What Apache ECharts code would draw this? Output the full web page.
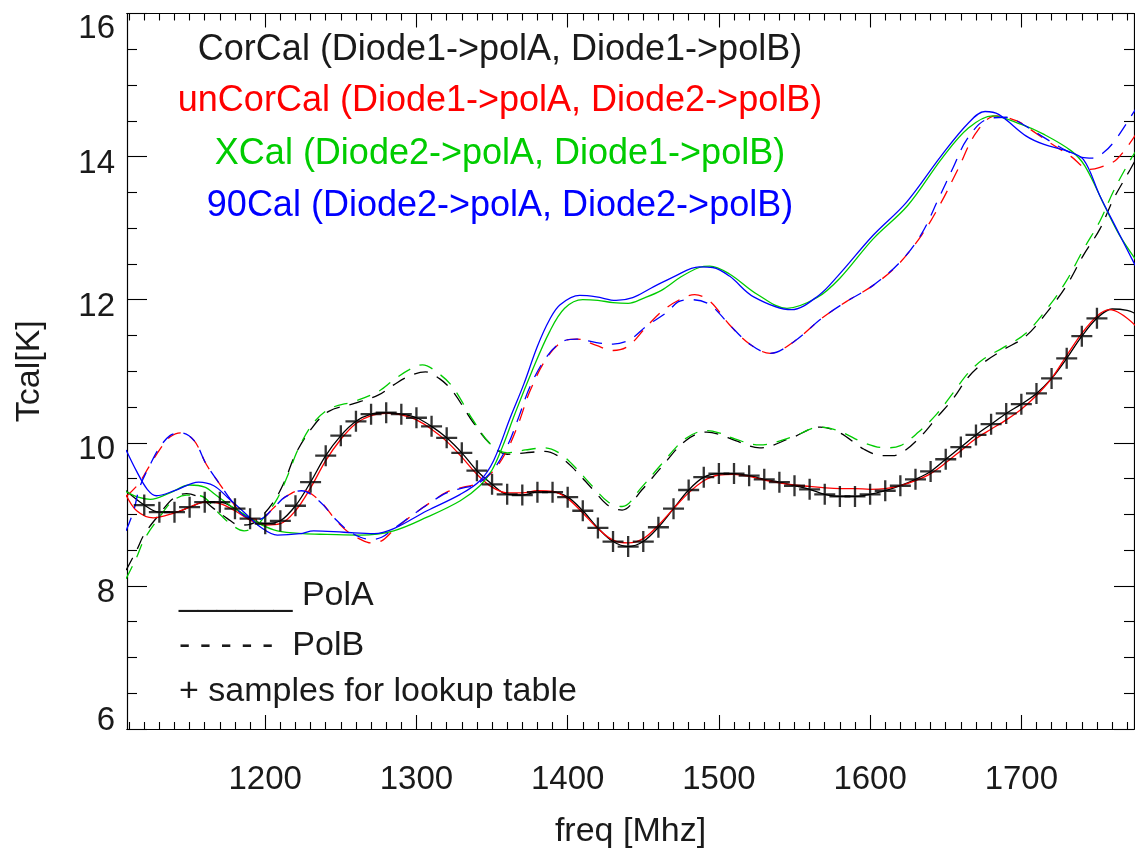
<!DOCTYPE html>
<html><head><meta charset="utf-8">
<script src="https://cdn.jsdelivr.net/npm/echarts@6/dist/echarts.min.js"></script>
<style>html,body{margin:0;padding:0;background:#fff}#c{width:1135px;height:854px}</style>
</head><body><div id="c"></div>
<script>
// ---------- data (freq MHz, Tcal K) ----------
const corCalPolA = [[1108,9.33],[1120,9.13],[1130,9.03],[1140,9.03],[1150,9.10],[1160,9.17],[1170,9.17],[1180,9.08],[1190,8.94],[1200,8.87],[1210,8.91],[1220,9.12],[1230,9.45],[1240,9.82],[1250,10.10],[1260,10.30],[1270,10.40],[1280,10.42],[1290,10.40],[1300,10.35],[1310,10.23],[1320,10.07],[1330,9.86],[1340,9.61],[1350,9.42],[1360,9.28],[1370,9.27],[1380,9.31],[1390,9.31],[1400,9.24],[1410,9.05],[1420,8.81],[1430,8.62],[1440,8.55],[1450,8.62],[1460,8.82],[1470,9.08],[1480,9.34],[1490,9.52],[1500,9.57],[1510,9.57],[1520,9.54],[1530,9.49],[1540,9.45],[1550,9.40],[1560,9.35],[1570,9.28],[1580,9.25],[1590,9.25],[1600,9.28],[1610,9.33],[1620,9.40],[1630,9.49],[1640,9.60],[1650,9.77],[1660,9.94],[1670,10.11],[1680,10.26],[1690,10.41],[1700,10.54],[1710,10.69],[1720,10.90],[1730,11.18],[1740,11.49],[1750,11.74],[1760,11.87],[1770,11.85],[1776,11.80]];
const corCalPolB = [[1108,8.22],[1115,8.50],[1120,8.72],[1130,9.00],[1139,9.22],[1148,9.29],[1157,9.23],[1166,9.08],[1175,8.94],[1183,8.85],[1190,8.86],[1197,8.96],[1206,9.19],[1213,9.47],[1220,9.84],[1231,10.21],[1242,10.44],[1259,10.55],[1275,10.67],[1285,10.81],[1295,10.93],[1306,10.99],[1315,10.90],[1324,10.72],[1337,10.30],[1349,9.98],[1360,9.84],[1372,9.86],[1385,9.88],[1395,9.80],[1403,9.66],[1417,9.34],[1427,9.12],[1436,9.06],[1449,9.34],[1462,9.66],[1478,10.03],[1492,10.15],[1500,10.12],[1511,10.03],[1527,9.93],[1548,10.07],[1567,10.22],[1580,10.14],[1596,9.91],[1608,9.82],[1615,9.82],[1623,9.89],[1634,10.10],[1644,10.35],[1655,10.62],[1665,10.92],[1675,11.12],[1688,11.30],[1703,11.49],[1719,11.88],[1730,12.20],[1741,12.62],[1752,12.99],[1761,13.41],[1772,13.82],[1778,14.05]];
const unCorCalPolA = [[1108,9.27],[1115,9.05],[1126,8.95],[1140,9.02],[1150,9.10],[1160,9.17],[1170,9.15],[1180,9.05],[1190,8.92],[1200,8.85],[1210,8.87],[1220,9.05],[1230,9.37],[1240,9.75],[1250,10.05],[1260,10.27],[1270,10.38],[1280,10.41],[1290,10.39],[1300,10.32],[1310,10.19],[1320,10.02],[1330,9.80],[1340,9.56],[1350,9.38],[1360,9.30],[1370,9.30],[1380,9.33],[1390,9.32],[1400,9.22],[1410,9.02],[1420,8.80],[1430,8.64],[1440,8.60],[1450,8.66],[1460,8.85],[1470,9.08],[1480,9.30],[1490,9.47],[1500,9.55],[1510,9.56],[1520,9.53],[1530,9.48],[1540,9.44],[1550,9.41],[1560,9.39],[1570,9.37],[1580,9.36],[1590,9.36],[1600,9.35],[1610,9.36],[1620,9.40],[1630,9.47],[1640,9.57],[1650,9.72],[1660,9.89],[1670,10.06],[1680,10.19],[1690,10.32],[1700,10.47],[1710,10.66],[1720,10.90],[1730,11.22],[1740,11.53],[1750,11.77],[1758,11.86],[1766,11.80],[1776,11.63]];
const unCorCalPolB = [[1108,9.25],[1116,9.42],[1123,9.66],[1131,9.93],[1137,10.08],[1144,10.14],[1153,10.03],[1161,9.70],[1170,9.42],[1179,9.15],[1186,8.98],[1196,8.93],[1206,9.10],[1213,9.24],[1224,9.34],[1236,9.19],[1247,8.91],[1255,8.75],[1263,8.65],[1270,8.60],[1277,8.63],[1285,8.78],[1298,9.00],[1311,9.19],[1320,9.31],[1331,9.38],[1340,9.43],[1351,9.61],[1360,9.90],[1368,10.30],[1375,10.72],[1386,11.18],[1397,11.42],[1406,11.45],[1419,11.36],[1430,11.29],[1440,11.35],[1452,11.62],[1463,11.85],[1475,12.01],[1484,12.07],[1494,11.98],[1507,11.65],[1521,11.37],[1534,11.25],[1550,11.42],[1568,11.74],[1584,11.97],[1602,12.20],[1618,12.48],[1634,12.90],[1647,13.36],[1658,13.82],[1670,14.33],[1683,14.57],[1697,14.50],[1706,14.38],[1717,14.22],[1733,14.00],[1745,13.82],[1752,13.85],[1763,13.96],[1776,14.32]];
const xCalPolA = [[1108,9.32],[1116,9.24],[1124,9.21],[1137,9.30],[1150,9.41],[1160,9.38],[1168,9.26],[1177,9.12],[1186,9.00],[1197,8.86],[1208,8.77],[1225,8.73],[1241,8.72],[1263,8.71],[1285,8.77],[1307,8.96],[1329,9.19],[1342,9.40],[1350,9.62],[1357,9.95],[1365,10.40],[1376,10.98],[1388,11.55],[1398,11.88],[1410,12.00],[1420,11.99],[1430,11.96],[1440,11.95],[1450,12.02],[1462,12.13],[1475,12.32],[1487,12.45],[1494,12.47],[1507,12.36],[1525,12.08],[1545,11.88],[1565,12.03],[1580,12.30],[1602,12.85],[1625,13.32],[1648,13.99],[1665,14.40],[1681,14.57],[1700,14.45],[1715,14.31],[1733,14.08],[1742,13.87],[1756,13.27],[1765,12.90],[1776,12.55]];
const xCalPolB = [[1108,8.10],[1115,8.40],[1120,8.65],[1130,8.96],[1139,9.19],[1148,9.27],[1157,9.26],[1170,9.00],[1178,8.85],[1186,8.77],[1193,8.82],[1200,8.98],[1208,9.22],[1215,9.55],[1222,9.92],[1232,10.28],[1243,10.48],[1259,10.58],[1275,10.72],[1285,10.88],[1295,11.02],[1304,11.09],[1314,10.98],[1324,10.78],[1337,10.33],[1349,9.98],[1360,9.86],[1372,9.90],[1385,9.93],[1395,9.85],[1403,9.70],[1417,9.38],[1427,9.17],[1436,9.11],[1449,9.38],[1462,9.70],[1478,10.06],[1492,10.17],[1500,10.14],[1511,10.05],[1527,9.97],[1548,10.08],[1567,10.22],[1580,10.16],[1596,10.00],[1610,9.93],[1620,9.96],[1632,10.15],[1644,10.40],[1655,10.70],[1665,10.98],[1675,11.17],[1688,11.33],[1703,11.53],[1719,11.93],[1730,12.27],[1741,12.70],[1752,13.10],[1761,13.52],[1772,13.95],[1778,14.15]];
const cal90PolA = [[1108,9.90],[1115,9.60],[1122,9.35],[1128,9.26],[1140,9.33],[1156,9.45],[1166,9.40],[1175,9.24],[1186,9.03],[1197,8.82],[1208,8.71],[1223,8.73],[1232,8.77],[1252,8.75],[1272,8.73],[1285,8.80],[1307,9.05],[1329,9.28],[1342,9.47],[1351,9.75],[1362,10.35],[1371,10.82],[1380,11.35],[1388,11.72],[1395,11.93],[1408,12.06],[1419,12.04],[1432,11.99],[1443,12.03],[1455,12.16],[1470,12.32],[1487,12.46],[1496,12.45],[1507,12.33],[1523,12.04],[1548,11.86],[1566,12.06],[1579,12.34],[1602,12.90],[1624,13.36],[1647,14.01],[1665,14.47],[1676,14.63],[1685,14.59],[1703,14.29],[1715,14.17],[1730,14.08],[1741,13.96],[1752,13.45],[1763,12.99],[1776,12.45]];
const cal90PolB = [[1108,8.77],[1113,9.05],[1117,9.38],[1124,9.70],[1130,9.93],[1137,10.10],[1144,10.14],[1153,10.03],[1161,9.70],[1170,9.42],[1179,9.15],[1186,8.98],[1196,8.93],[1206,9.10],[1213,9.24],[1224,9.33],[1236,9.18],[1247,8.92],[1255,8.77],[1263,8.68],[1270,8.65],[1277,8.68],[1285,8.80],[1298,9.00],[1311,9.19],[1320,9.30],[1331,9.37],[1340,9.42],[1351,9.63],[1360,9.95],[1368,10.38],[1375,10.78],[1386,11.20],[1397,11.42],[1406,11.45],[1419,11.40],[1430,11.38],[1441,11.44],[1452,11.63],[1466,11.83],[1473,11.97],[1482,12.00],[1494,11.93],[1507,11.65],[1521,11.37],[1534,11.25],[1550,11.42],[1568,11.74],[1584,11.97],[1602,12.20],[1620,12.53],[1634,12.92],[1645,13.40],[1655,13.85],[1664,14.24],[1677,14.52],[1690,14.55],[1697,14.50],[1717,14.24],[1730,14.08],[1740,13.99],[1747,13.98],[1754,14.05],[1761,14.20],[1774,14.61],[1778,14.75]];
// lookup-table samples (every 10 MHz, on the CorCal polA curve)
const sampleFreqs = [1120,1130,1140,1150,1160,1170,1180,1190,1200,1210,1220,1230,1240,1250,1260,1270,1280,1290,1300,1310,1320,1330,1340,1350,1360,1370,1380,1390,1400,1410,1420,1430,1440,1450,1460,1470,1480,1490,1500,1510,1520,1530,1540,1550,1560,1570,1580,1590,1600,1610,1620,1630,1640,1650,1660,1670,1680,1690,1700,1710,1720,1730,1740,1750];

const xMajorTicks = [1200,1300,1400,1500,1600,1700];
const xMinorTicks = [1110,1120,1130,1140,1150,1160,1170,1180,1190,1210,1220,1230,1240,1250,1260,1270,1280,1290,1310,1320,1330,1340,1350,1360,1370,1380,1390,1410,1420,1430,1440,1450,1460,1470,1480,1490,1510,1520,1530,1540,1550,1560,1570,1580,1590,1610,1620,1630,1640,1650,1660,1670,1680,1690,1710,1720,1730,1740,1750,1760,1770];
const legendLines = [
  {text:'CorCal (Diode1->polA, Diode1->polB)', color:'#1a1a1a'},
  {text:'unCorCal (Diode1->polA, Diode2->polB)', color:'#ff0000'},
  {text:'XCal (Diode2->polA, Diode1->polB)', color:'#00cc00'},
  {text:'90Cal (Diode2->polA, Diode2->polB)', color:'#0000ff'}
];
const styleKey = ['______ PolA', '- - - - -  PolB', '+ samples for lookup table'];

const FONT = '"Liberation Sans", Arial, Helvetica, sans-serif';
const XMIN = 1108.6, XMAX = 1774.5;
const sampleData = sampleFreqs.map(f => corCalPolA.find(p => p[0] === f));

const chart = echarts.init(document.getElementById('c'), null, {renderer:'canvas'});
const axisLine = {show:true, lineStyle:{color:'#000', width:1.2}};
function xAx(pos, ticks, len, labels){
  return {type:'value', min:XMIN, max:XMAX, position:pos, gridIndex:0,
    axisLine: axisLine, splitLine:{show:false},
    axisTick:{show:true, inside:true, length:len, customValues:ticks, lineStyle:{color:'#000', width:1.1}},
    axisLabel: labels ? {show:true, customValues:xMajorTicks, formatter: v => String(v), fontSize:33, fontFamily:FONT, color:'#1a1a1a', margin:34} : {show:false}};
}
const xAxes = [xAx('bottom', xMajorTicks, 14, true), xAx('bottom', xMinorTicks, 7, false), xAx('top', xMajorTicks, 14, false), xAx('top', xMinorTicks, 7, false)];
xAxes[0].name = 'freq [Mhz]';
xAxes[0].nameLocation = 'middle';
xAxes[0].nameGap = 86;
xAxes[0].nameTextStyle = {fontSize:34, fontFamily:FONT, color:'#1a1a1a'};

const richBase = {fontSize:33, fontFamily:FONT, color:'#1a1a1a'};
function yAx(pos, labels){
  return {type:'value', min:6, max:16, interval:2, position:pos, gridIndex:0,
    axisLine: axisLine, splitLine:{show:false},
    axisTick:{show:true, inside:true, length:20, lineStyle:{color:'#000', width:1.1}},
    minorTick:{show:true, splitNumber:4, length:10, lineStyle:{color:'#000', width:1.1}},
    axisLabel: labels ? {show:true, margin:12, fontSize:33, fontFamily:FONT, color:'#1a1a1a',
      formatter: v => v === 16 ? '{a|16}' : (v === 6 ? '{b|6}' : '{c|' + v + '}'),
      rich:{a:Object.assign({padding:[30,0,0,0]}, richBase), b:Object.assign({padding:[0,0,16,0]}, richBase), c:Object.assign({padding:[14,0,0,0]}, richBase)}} : {show:false}};
}
const yAxes = [yAx('left', true), yAx('right', false)];
yAxes[0].name = 'Tcal[K]';
yAxes[0].nameLocation = 'middle';
yAxes[0].nameGap = 80;
yAxes[0].nameTextStyle = {fontSize:34, fontFamily:FONT, color:'#1a1a1a'};

function line(data, color, dashed, z){
  return {type:'line', data:data, xAxisIndex:0, yAxisIndex:0, smooth:0.35, showSymbol:false, symbol:'none',
    clip:true, z:z, lineStyle:{color:color, width:1.3, type: dashed ? [14,10] : 'solid'}};
}
const graphics = legendLines.map((l, i) => ({type:'text', x:500, y:[50,101,154,206][i], z:100,
  style:{text:l.text, fill:l.color, font:'36px ' + FONT, textAlign:'center', textVerticalAlign:'middle'}}));
styleKey.forEach((t, i) => graphics.push({type:'text', x:179, y:[596,646,692][i], z:100,
  style:{text:t, fill:'#1a1a1a', font:'34px ' + FONT, textAlign:'left', textVerticalAlign:'middle'}}));

chart.setOption({
  animation:false,
  backgroundColor:'#fff',
  grid:{left:127, top:13.5, right:1, bottom:121, containLabel:false},
  xAxis: xAxes,
  yAxis: yAxes,
  graphic: graphics,
  series:[
    line(corCalPolA, '#000000', false, 2),
    line(corCalPolB, '#000000', true, 2),
    line(unCorCalPolA, '#ff0000', false, 3),
    line(unCorCalPolB, '#ff0000', true, 3),
    line(xCalPolA, '#00cc00', false, 4),
    line(xCalPolB, '#00cc00', true, 4),
    line(cal90PolA, '#0000ff', false, 5),
    line(cal90PolB, '#0000ff', true, 5),
    {type:'scatter', data:sampleData, xAxisIndex:0, yAxisIndex:0, z:6,
      symbol:'path://M0,8.9H20V11.1H0Z M8.9,0H11.1V20H8.9Z', symbolSize:[21,21],
      itemStyle:{color:'#000'}}
  ]
});
</script></body></html>
